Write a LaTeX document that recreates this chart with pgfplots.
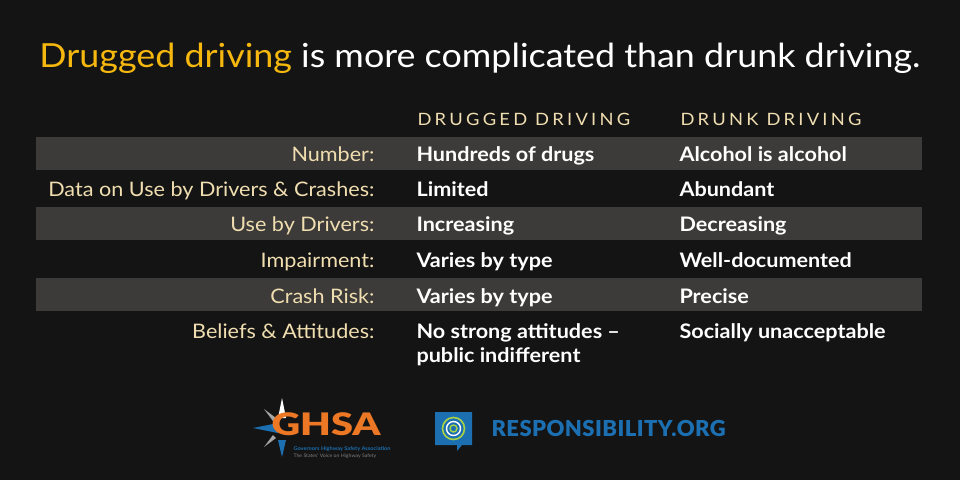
\documentclass[border=0pt]{standalone}
\usepackage{pgfplots}
\pgfplotsset{compat=1.18}
\usepackage{fontspec}
\setmainfont{Lato}[FakeStretch=1.08]
\newfontfamily\heavy{Lato}[UprightFont=* Black]
\definecolor{bg}{RGB}{20,20,20}
\definecolor{stripe}{RGB}{60,59,57}
\definecolor{cream}{RGB}{240,222,176}
\definecolor{titleyel}{RGB}{246,184,14}
\definecolor{ghsaorange}{RGB}{236,120,38}
\definecolor{respblue}{RGB}{28,112,178}
\definecolor{respgreen}{RGB}{170,210,70}

\newcommand{\body}{\fontsize{20}{24}\selectfont}
\begin{document}
\begin{tikzpicture}[x=1pt,y=1pt]
  \fill[bg] (0,0) rectangle (960,480);
  \begin{axis}[
      width=960pt, height=480pt, scale only axis,
      xmin=0, xmax=960, ymin=0, ymax=480,
      y dir=reverse, hide axis, clip=false,
      every node/.style={inner sep=0pt}
    ]
    % row stripes
    \addplot[fill=stripe, draw=none] coordinates {(36,137) (922,137) (922,170) (36,170)} -- cycle;
    \addplot[fill=stripe, draw=none] coordinates {(36,207) (922,207) (922,240) (36,240)} -- cycle;
    \addplot[fill=stripe, draw=none] coordinates {(36,278) (922,278) (922,311) (36,311)} -- cycle;

    % title
    \node[anchor=base] at (axis cs:480,67) {\fontsize{33.2}{38}\selectfont
      \textcolor{titleyel}{Drugged driving} \textcolor{white}{is more complicated than drunk driving.}};

    % column headers
    \node[anchor=base west, text=cream] at (axis cs:414,125)
      {\fontsize{17}{20}\selectfont\addfontfeature{LetterSpace=19}DRUGGED DRIVING};
    \node[anchor=base west, text=cream] at (axis cs:677,125)
      {\fontsize{17}{20}\selectfont\addfontfeature{LetterSpace=19}DRUNK DRIVING};

    % row labels
    \node[anchor=base east, text=cream] at (axis cs:378,161) {\body Number:};
    \node[anchor=base east, text=cream] at (axis cs:378,196) {\body Data on Use by Drivers \& Crashes:};
    \node[anchor=base east, text=cream] at (axis cs:378,231) {\body Use by Drivers:};
    \node[anchor=base east, text=cream] at (axis cs:378,267) {\body Impairment:};
    \node[anchor=base east, text=cream] at (axis cs:378,303) {\body Crash Risk:};
    \node[anchor=base east, text=cream] at (axis cs:378,338) {\body Beliefs \& Attitudes:};

    % drugged driving column
    \node[anchor=base west, text=white] at (axis cs:413,161) {\body\bfseries Hundreds of drugs};
    \node[anchor=base west, text=white] at (axis cs:413,196) {\body\bfseries Limited};
    \node[anchor=base west, text=white] at (axis cs:413,231) {\body\bfseries Increasing};
    \node[anchor=base west, text=white] at (axis cs:413,267) {\body\bfseries Varies by type};
    \node[anchor=base west, text=white] at (axis cs:413,303) {\body\bfseries Varies by type};
    \node[anchor=base west, text=white] at (axis cs:413,338) {\body\bfseries No strong attitudes --};
    \node[anchor=base west, text=white] at (axis cs:413,362) {\body\bfseries public indifferent};

    % drunk driving column
    \node[anchor=base west, text=white] at (axis cs:676,161) {\body\bfseries Alcohol is alcohol};
    \node[anchor=base west, text=white] at (axis cs:676,196) {\body\bfseries Abundant};
    \node[anchor=base west, text=white] at (axis cs:676,231) {\body\bfseries Decreasing};
    \node[anchor=base west, text=white] at (axis cs:676,267) {\body\bfseries Well-documented};
    \node[anchor=base west, text=white] at (axis cs:676,303) {\body\bfseries Precise};
    \node[anchor=base west, text=white] at (axis cs:676,338) {\body\bfseries Socially unacceptable};

    % GHSA logo: compass star behind the letters
    \addplot[fill=respblue, draw=none] coordinates {(253,428) (278,423) (278,433)} -- cycle;
    \addplot[fill=white, draw=none] coordinates {(282,398) (278,418) (286,418)} -- cycle;
    \addplot[fill=respblue, draw=none] coordinates {(282,457) (278,440) (286,440)} -- cycle;
    \addplot[fill=gray!70, draw=none] coordinates {(264,409) (276,418) (273,421)} -- cycle;
    \addplot[fill=gray!70, draw=none] coordinates {(264,447) (273,435) (276,438)} -- cycle;
    \node[anchor=base west, text=ghsaorange] at (axis cs:268,435)
      {\fontsize{31}{31}\selectfont\heavy\addfontfeature{FakeStretch=1.28}GHSA};
    \node[anchor=base west, text=respblue] at (axis cs:290,450)
      {\fontsize{5.2}{6}\selectfont\bfseries Governors Highway Safety Association};
    \node[anchor=base west, text=gray] at (axis cs:290,457)
      {\fontsize{4.8}{5}\selectfont The States' Voice on Highway Safety};

    % Responsibility.org logo
    \addplot[fill=respblue, draw=none] coordinates {(435,412) (472,412) (472,445) (462,445) (457,451) (457,445) (435,445)} -- cycle;
    \draw[respgreen, line width=1.6pt] (axis cs:453.5,428.5) circle[radius=11];
    \draw[white, line width=1.4pt] (axis cs:453.5,428.5) circle[radius=7];
    \draw[respgreen, line width=1.4pt] (axis cs:453.5,428.5) circle[radius=3.5];
    \node[anchor=base west, text=respblue] at (axis cs:488,436)
      {\fontsize{22}{24}\selectfont\heavy\addfontfeature{LetterSpace=2}RESPONSIBILITY.ORG};
  \end{axis}
\end{tikzpicture}
\end{document}
